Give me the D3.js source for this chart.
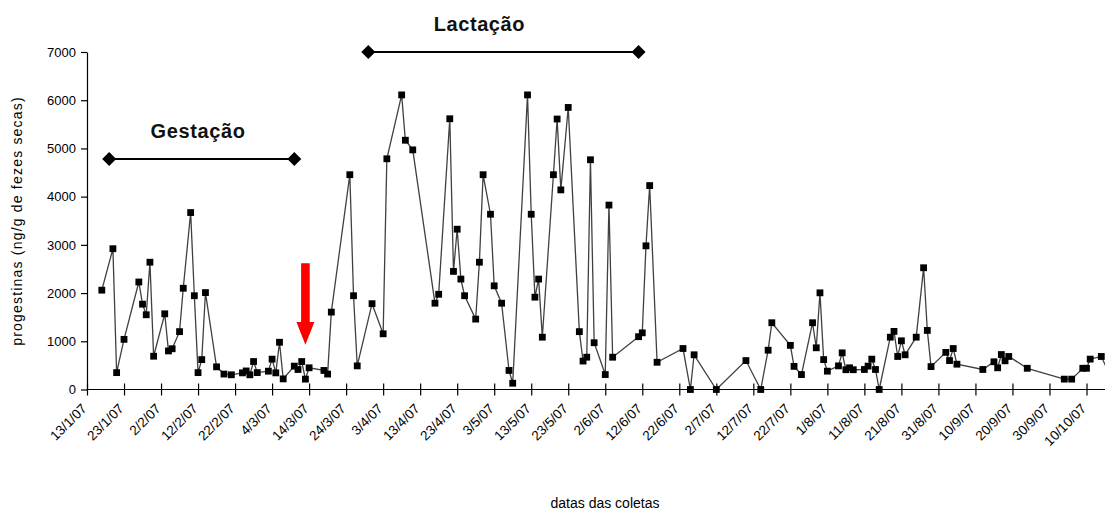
<!DOCTYPE html>
<html><head><meta charset="utf-8">
<script src="https://cdn.jsdelivr.net/npm/d3@7"></script>
<style>body{margin:0;background:#fff}svg{display:block}text{font-family:"Liberation Sans",Arial,sans-serif}</style>
</head><body>
<svg id="c" width="1105" height="511"></svg>
<script>
const dates = ["17/1/07","20/1/07","21/1/07","23/1/07","27/1/07","28/1/07","29/1/07","30/1/07","31/1/07",
"3/2/07","4/2/07","5/2/07","7/2/07","8/2/07","10/2/07","11/2/07","12/2/07","13/2/07","14/2/07","17/2/07","19/2/07","21/2/07","24/2/07","25/2/07","26/2/07","27/2/07","28/2/07",
"3/3/07","4/3/07","5/3/07","6/3/07","7/3/07","10/3/07","11/3/07","12/3/07","13/3/07","14/3/07","18/3/07","19/3/07","20/3/07","25/3/07","26/3/07","27/3/07","31/3/07",
"3/4/07","4/4/07","8/4/07","9/4/07","11/4/07","17/4/07","18/4/07","21/4/07","22/4/07","23/4/07","24/4/07","25/4/07","28/4/07","29/4/07","30/4/07",
"2/5/07","3/5/07","5/5/07","7/5/07","8/5/07","12/5/07","13/5/07","14/5/07","15/5/07","16/5/07","19/5/07","20/5/07","21/5/07","23/5/07","26/5/07","27/5/07","28/5/07","29/5/07","30/5/07",
"2/6/07","3/6/07","4/6/07","11/6/07","12/6/07","13/6/07","14/6/07","16/6/07","23/6/07","25/6/07","26/6/07",
"2/7/07","10/7/07","14/7/07","16/7/07","17/7/07","22/7/07","23/7/07","25/7/07","28/7/07","29/7/07","30/7/07","31/7/07",
"1/8/07","4/8/07","5/8/07","6/8/07","7/8/07","8/8/07","11/8/07","12/8/07","13/8/07","14/8/07","15/8/07","18/8/07","19/8/07","20/8/07","21/8/07","22/8/07","25/8/07","27/8/07","28/8/07","29/8/07",
"2/9/07","3/9/07","4/9/07","5/9/07","12/9/07","15/9/07","16/9/07","17/9/07","18/9/07","19/9/07","24/9/07",
"4/10/07","6/10/07","9/10/07","10/10/07","11/10/07","14/10/07","16/10/07"];
const values = [2060,2920,350,1040,2230,1770,1550,2640,690,
1570,800,845,1200,2100,3670,1945,350,620,2010,470,320,305,345,385,305,580,350,
380,630,345,980,220,485,415,580,215,450,395,320,1605,4455,1945,490,1780,
1155,4785,6110,5170,4970,1790,1975,5615,2450,3325,2290,1945,1460,2640,4455,
3635,2150,1790,395,130,6110,3635,1915,2290,1085,4455,5610,4140,5850,1200,590,670,4765,970,
310,3825,670,1095,1175,2980,4230,565,850,0,720,
0,600,0,815,1385,915,480,310,1385,865,2005,620,
380,490,760,410,450,410,415,485,630,415,0,1085,1205,685,1010,720,1085,2525,1225,475,
770,600,850,525,415,575,450,725,595,685,440,
215,215,440,440,630,685,350];
const tickLabels = ["13/1/07","23/1/07","2/2/07","12/2/07","22/2/07","4/3/07","14/3/07","24/3/07","3/4/07","13/4/07","23/4/07","3/5/07","13/5/07","23/5/07","2/6/07","12/6/07","22/6/07","2/7/07","12/7/07","22/7/07","1/8/07","11/8/07","21/8/07","31/8/07","10/9/07","20/9/07","30/9/07","10/10/07"];
const yTicks = [0,1000,2000,3000,4000,5000,6000,7000];
const phaseNames = ["Gestação","Lactação"];
const phaseStart = ["19/1/07","30/3/07"];
const phaseEnd = ["10/3/07","11/6/07"];
const phaseLevel = [4780,7000];
const phaseLabelDate = ["12/2/07","29/4/07"];
const arrowDate = "13/3/07";
const arrowLevels = [2620,1400,930]; // top of shaft, base of head, tip

const parse = d3.utcParse("%d/%m/%y");
const svg = d3.select("#c");
const x = d3.scaleUtc().domain([parse("13/1/07"), parse("15/10/07")]).range([87, 1105]);
const y = d3.scaleLinear().domain([0,7000]).range([389.5, 52]);

// y axis
const ya = svg.append("g").attr("transform","translate(87,0)")
  .call(d3.axisLeft(y).tickValues(yTicks).tickSize(6).tickSizeOuter(0).tickPadding(5).tickFormat(d3.format("d")));
ya.selectAll("text").style("font-size","13px").attr("fill","#000");
ya.selectAll("line,path").attr("stroke","#000").attr("stroke-width",1.2);

// x axis
const xa = svg.append("g").attr("transform","translate(0,389.5)")
  .call(d3.axisBottom(x).tickValues(tickLabels.map(parse)).tickFormat((d,i)=>tickLabels[i]).tickSizeOuter(0));
xa.selectAll("path,line").attr("stroke","#000").attr("stroke-width",1.2);
xa.selectAll(".tick line").attr("y1",-6).attr("y2",6);
xa.selectAll(".tick text").attr("x",0).attr("y",0).attr("dy",0)
  .attr("text-anchor","end").attr("transform","translate(0,20) rotate(-45)")
  .style("font-size","13.5px").attr("fill","#000");
xa.select(".domain").attr("d","M87,0H1105");

// series
const pts = dates.map((d,i)=>({date:parse(d), v:values[i]}));
svg.append("path").datum(pts).attr("fill","none").attr("stroke","#404040").attr("stroke-width",1.3)
  .attr("d", d3.line().x(d=>x(d.date)).y(d=>y(d.v)));
svg.append("g").selectAll("rect").data(pts).join("rect")
  .attr("x",d=>x(d.date)-3.4).attr("y",d=>y(d.v)-3.4).attr("width",6.8).attr("height",6.8).attr("fill","#000");

// phase brackets
phaseNames.forEach((n,i)=>{
  const x1 = x(parse(phaseStart[i])), x2 = x(parse(phaseEnd[i])), yy = y(phaseLevel[i]);
  svg.append("line").attr("x1",x1).attr("x2",x2).attr("y1",yy).attr("y2",yy).attr("stroke","#000").attr("stroke-width",2);
  [x1,x2].forEach(xx=>{
    svg.append("path").attr("d",`M${xx-7},${yy}L${xx},${yy-7}L${xx+7},${yy}L${xx},${yy+7}Z`).attr("fill","#000");
  });
  svg.append("text").attr("x",x(parse(phaseLabelDate[i]))).attr("y",yy-21).attr("text-anchor","middle")
    .style("font-size","20px").style("font-weight","bold").style("letter-spacing","0.6px").attr("fill","#111").text(n);
});

// red arrow
{
  const ax = x(parse(arrowDate)), yt = y(arrowLevels[0]), yb = y(arrowLevels[1]), tip = y(arrowLevels[2]);
  svg.append("path").attr("fill","#ff0000")
    .attr("d",`M${ax-4.3},${yt}H${ax+4.3}V${yb}H${ax+9}L${ax},${tip}L${ax-9},${yb}H${ax-4.3}Z`);
}

// axis titles
svg.append("text").attr("transform","translate(22,221) rotate(-90)").attr("text-anchor","middle")
  .style("font-size","14px").style("letter-spacing","1.2px").attr("fill","#000").text("progestinas (ng/g de fezes secas)");
svg.append("text").attr("x",605).attr("y",508).attr("text-anchor","middle")
  .style("font-size","14px").attr("fill","#000").text("datas das coletas");
</script>
</body></html>
